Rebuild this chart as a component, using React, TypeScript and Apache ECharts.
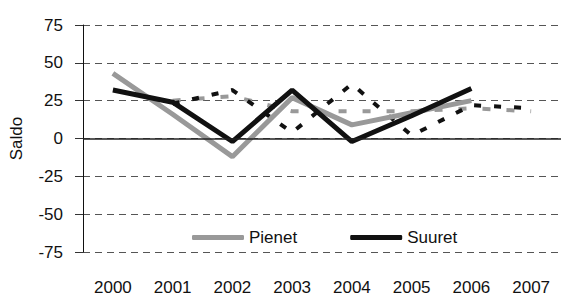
import React, { useEffect, useRef } from "react";
import * as echarts from "echarts";

const years = ["2000", "2001", "2002", "2003", "2004", "2005", "2006", "2007"];
const pienet = [43, 16, -12, 27, 9, 17, 25, "-"];
const suuret = [32, 24, -2, 32, -2, 15, 33, "-"];
const pienetEnnuste = ["-", 25, 28, 18, 18, 18, 20, 18];
const suuretEnnuste = ["-", 23, 32, 4, 36, 2, 22, 20];

const FONT = "'Liberation Sans', Arial, sans-serif";

export default function App() {
  const ref = useRef<HTMLDivElement>(null);
  useEffect(() => {
    document.body.style.margin = "0";
    const chart = echarts.init(ref.current!, null, { renderer: "svg" });
    chart.setOption({
      animation: false,
      backgroundColor: "#ffffff",
      textStyle: { fontFamily: FONT },
      grid: { left: 83, right: 0, top: 25, bottom: 44 },
      legend: {
        data: ["Pienet", "Suuret"],
        left: 187,
        top: 224,
        itemWidth: 52,
        itemHeight: 5,
        itemGap: 53,
        icon: "roundRect",
        textStyle: { fontFamily: FONT, fontSize: 17, color: "#111" },
      },
      xAxis: {
        type: "category",
        data: years,
        boundaryGap: true,
        axisLine: { show: false },
        axisTick: { show: false },
        axisLabel: { interval: 0, margin: 27, fontFamily: FONT, fontSize: 17, color: "#111" },
      },
      yAxis: {
        type: "value",
        min: -75,
        max: 75,
        interval: 25,
        name: "Saldo",
        nameLocation: "middle",
        nameRotate: 90,
        nameGap: 58,
        nameTextStyle: { fontFamily: FONT, fontSize: 17, color: "#111" },
        axisLine: { show: true, lineStyle: { color: "#111", width: 1 } },
        axisTick: { show: true, inside: false, length: 8, lineStyle: { color: "#333" } },
        axisLabel: { margin: 20, fontFamily: FONT, fontSize: 17, color: "#111" },
        splitLine: { show: true, lineStyle: { color: "#555", type: [7, 5], width: 1 } },
      },
      series: [
        {
          name: "Pienet ennuste",
          type: "line",
          data: pienetEnnuste,
          showSymbol: false,
          lineStyle: { color: "#999", width: 4, type: [8, 16] },
          itemStyle: { color: "#999" },
          markLine: {
            silent: true,
            symbol: "none",
            label: { show: false },
            lineStyle: { color: "#222", type: "solid", width: 1.5 },
            data: [{ yAxis: 0 }],
          },
        },
        {
          name: "Suuret ennuste",
          type: "line",
          data: suuretEnnuste,
          showSymbol: false,
          lineStyle: { color: "#111", width: 4, type: [7, 13] },
          itemStyle: { color: "#111" },
        },
        {
          name: "Pienet",
          type: "line",
          data: pienet,
          showSymbol: false,
          lineStyle: { color: "#999", width: 5 },
          itemStyle: { color: "#999" },
        },
        {
          name: "Suuret",
          type: "line",
          data: suuret,
          showSymbol: false,
          lineStyle: { color: "#111", width: 5 },
          itemStyle: { color: "#111" },
        },
      ],
    });
    return () => chart.dispose();
  }, []);
  return <div ref={ref} style={{ width: 561, height: 296 }} />;
}
